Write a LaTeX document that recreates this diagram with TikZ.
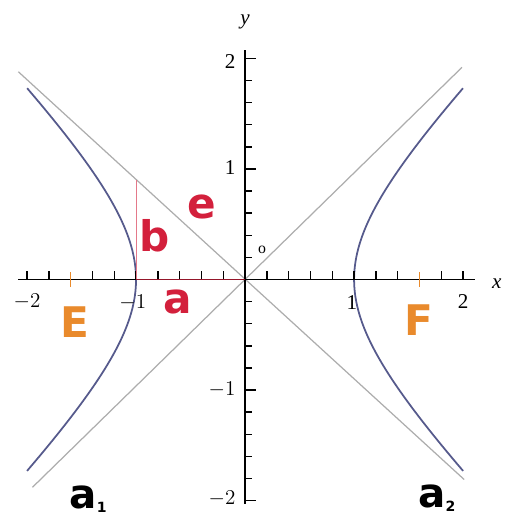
\documentclass[tikz,border=0pt]{standalone}
\usepackage{fontspec}
\setmainfont{Liberation Serif}
\newfontfamily\letterfont{DejaVu Sans}
\usepackage{xcolor}
\usepackage{tikz}
\usetikzlibrary{positioning}
\definecolor{hypblue}{HTML}{565A8C}
\definecolor{asymgray}{HTML}{ADADAD}
\definecolor{segred}{HTML}{D3203C}
\definecolor{focusorange}{HTML}{E98A2C}

\begin{document}
\begin{tikzpicture}[
  x=2.18cm, y=2.21cm,
  every node/.style={font=\fontsize{12}{13}\selectfont, inner sep=1pt},
  axis/.style={line width=1.1pt},
  asym/.style={asymgray, line width=0.7pt},
  branch/.style={hypblue, line width=1pt},
  redlabel/.style={text=segred, font=\letterfont\bfseries\fontsize{24}{25}\selectfont},
  focuslabel/.style={text=focusorange, font=\letterfont\bfseries\fontsize{24}{25}\selectfont},
  branchlabel/.style={font=\letterfont\bfseries\fontsize{23}{24}\selectfont}
]
\useasboundingbox (-2.248,-2.158) rectangle (2.422,2.529);

% asymptotes
\coordinate (asTL) at (-2.08,1.88);
\coordinate (asBR) at (2.01,-1.81);
\coordinate (asBL) at (-1.95,-1.88);
\coordinate (asTR) at (1.99,1.92);
\draw[asym] (asTL) -- (asBR);
\draw[asym] (asBL) -- (asTR);

% hyperbola branches
\draw[branch] plot[domain=-1.317:1.317, smooth, samples=60] ({-cosh(\x)},{sinh(\x)});
\draw[branch] plot[domain=-1.317:1.317, smooth, samples=60] ({cosh(\x)},{sinh(\x)});

% axes
\coordinate (O) at (0,0);
\draw[axis] (-2.08,0) -- (2.11,0);
\draw[axis] (0,-2.03) -- (0,2.08);
\foreach \t in {-2,-1.8,-1.4,-1.2,-1,-0.8,-0.6,-0.4,-0.2,0.2,0.4,0.6,0.8,1,1.2,1.4,1.8,2}
  \draw[line width=0.8pt] (\t,0) -- ++(0,5pt);
\foreach \t in {-1.6,1.6}
  \draw[focusorange, line width=0.8pt] (\t,-4pt) -- (\t,4pt);
\foreach \t in {-1.8,-1.6,-1.4,-1.2,-0.8,-0.6,-0.4,-0.2,0.2,0.4,0.6,0.8,1.2,1.4,1.6,1.8}
  \draw[line width=0.8pt] (0,\t) -- ++(4pt,0);
\foreach \t in {-2,-1,1,2}
  \draw[line width=0.8pt] (0,\t) -- ++(6pt,0);

% a and b
\coordinate (V) at (-1,0);
\coordinate (bTop) at (-1,0.9);
\draw[segred!70!black, line width=1.1pt] (V) -- (O);
\draw[segred!60, line width=0.6pt] (V) -- (bTop);

% tick labels
\node (xm2) at (-2.0,-0.2) {$-2$};
\node (xm1) at (-1.03,-0.21) {$-1$};
\node (xp1) at (0.98,-0.21) {1};
\node (xp2) at (2.0,-0.2) {2};
\node[anchor=east] (yp2) at (-0.07,1.97) {2};
\node[anchor=east] (yp1) at (-0.07,1.01) {1};
\node[anchor=east] (ym1) at (-0.07,-1.0) {$-1$};
\node[anchor=east] (ym2) at (-0.07,-1.98) {$-2$};
\node (xlab) at (2.31,-0.04) {\textit{x}};
\node (ylab) at (0,2.33) {\textit{y}};
\node[font=\fontsize{9}{9}\selectfont] (olab) at (0.156,0.27) {o};

% letters
\node[redlabel] (elab) at (-0.40,0.66) {e};
\node[redlabel] (blab) at (-0.826,0.40) {b};
\node[redlabel] (alab) at (-0.615,-0.20) {a};
\node[focuslabel] (Elab) at (-1.56,-0.39) {E};
\node[focuslabel] (Flab) at (1.596,-0.37) {F};
\node[branchlabel] (a1) at (-1.44,-1.99) {a\raisebox{-0.2ex}{\fontsize{8}{8}\selectfont 1}};
\node[branchlabel] (a2) at (1.76,-1.98) {a\raisebox{-0.2ex}{\fontsize{8}{8}\selectfont 2}};
\end{tikzpicture}
\end{document}
